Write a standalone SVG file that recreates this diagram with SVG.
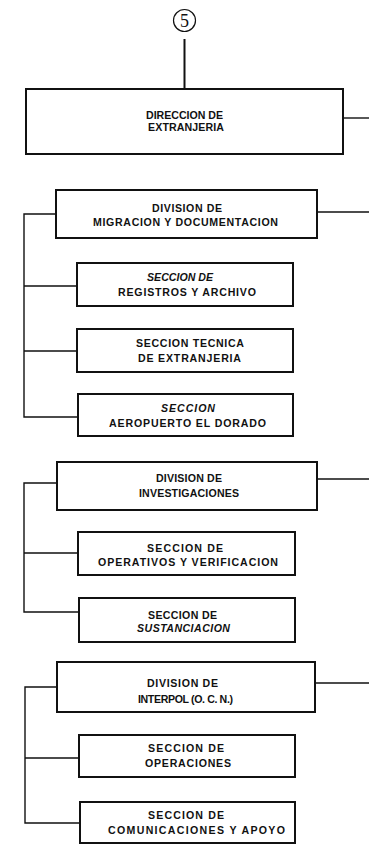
<svg xmlns="http://www.w3.org/2000/svg" width="369" height="845" viewBox="0 0 369 845">
<style>
.box{fill:#fff;stroke:#111;stroke-width:2}
.t{font-family:"Liberation Sans",Arial,sans-serif;font-size:10.6px;font-weight:bold;fill:#111;text-anchor:start}
.i{font-style:italic}
.c{fill:none;stroke:#111;stroke-width:1.4}
</style>
<rect width="369" height="845" fill="#fff"/>
<g id="connectors">
<line class="c" x1="184.5" y1="39" x2="184.5" y2="89" style="stroke-width:2"/>
<line class="c" x1="343" y1="118" x2="369" y2="118"/>
<line class="c" x1="317" y1="212" x2="369" y2="212"/>
<line class="c" x1="317" y1="479" x2="369" y2="479"/>
<line class="c" x1="315" y1="683" x2="369" y2="683"/>
<path class="c" d="M56,214 H24 V417 H78 M24,286 H77 M24,351 H77"/>
<path class="c" d="M57,483 H24 V612 H79 M24,553 H78"/>
<path class="c" d="M57,687 H25 V823 H80 M25,758 H79"/>
</g>
<g id="n0">
<circle cx="184.5" cy="20.5" r="11" fill="none" stroke="#111" stroke-width="1.2"/>
<text x="184.5" y="26.5" font-family="Liberation Serif,serif" font-size="18" text-anchor="middle" fill="#111">5</text>
</g>
<g id="n1"><rect class="box" x="26" y="89" width="317" height="65"/>
<text class="t" x="146" y="118.8" textLength="77">DIRECCION DE</text>
<text class="t" x="148" y="131" textLength="76">EXTRANJERIA</text></g>
<g id="n2"><rect class="box" x="56" y="190" width="261" height="48"/>
<text class="t" x="152" y="211.8" textLength="70">DIVISION DE</text>
<text class="t" x="93" y="225.8" textLength="185">MIGRACION Y DOCUMENTACION</text></g>
<g id="n3"><rect class="box" x="77" y="263" width="216" height="43"/>
<text class="t i" x="147" y="281.3" textLength="66">SECCION DE</text>
<text class="t" x="118" y="295.8" textLength="138">REGISTROS Y ARCHIVO</text></g>
<g id="n4"><rect class="box" x="77" y="329" width="216" height="43"/>
<text class="t" x="136" y="347.3" textLength="108">SECCION TECNICA</text>
<text class="t" x="138" y="361.8" textLength="103">DE EXTRANJERIA</text></g>
<g id="n5"><rect class="box" x="78" y="394" width="215" height="42"/>
<text class="t i" x="161" y="411.8" textLength="54">SECCION</text>
<text class="t" x="109" y="426.8" textLength="157">AEROPUERTO EL DORADO</text></g>
<g id="n6"><rect class="box" x="57" y="462" width="260" height="48"/>
<text class="t" x="156" y="481.8" textLength="66">DIVISION DE</text>
<text class="t" x="139" y="496.8" textLength="100">INVESTIGACIONES</text></g>
<g id="n7"><rect class="box" x="78" y="532" width="217" height="43"/>
<text class="t" x="147" y="551.8" textLength="76">SECCION DE</text>
<text class="t" x="98" y="565.8" textLength="180">OPERATIVOS Y VERIFICACION</text></g>
<g id="n8"><rect class="box" x="79" y="598" width="216" height="44"/>
<text class="t" x="148" y="618.8" textLength="69">SECCION DE</text>
<text class="t i" x="137" y="631.8" textLength="93">SUSTANCIACION</text></g>
<g id="n9"><rect class="box" x="57" y="662" width="258" height="50"/>
<text class="t" x="147" y="687.3" textLength="71">DIVISION DE</text>
<text class="t" x="138" y="702.8" textLength="95">INTERPOL (O. C. N.)</text></g>
<g id="n10"><rect class="box" x="79" y="735" width="216" height="42"/>
<text class="t" x="148" y="751.8" textLength="76">SECCION DE</text>
<text class="t" x="145" y="766.8" textLength="86">OPERACIONES</text></g>
<g id="n11"><rect class="box" x="80" y="802" width="215" height="41"/>
<text class="t" x="148" y="818.8" textLength="76">SECCION DE</text>
<text class="t" x="108" y="833.8" textLength="177">COMUNICACIONES Y APOYO</text></g>
</svg>
